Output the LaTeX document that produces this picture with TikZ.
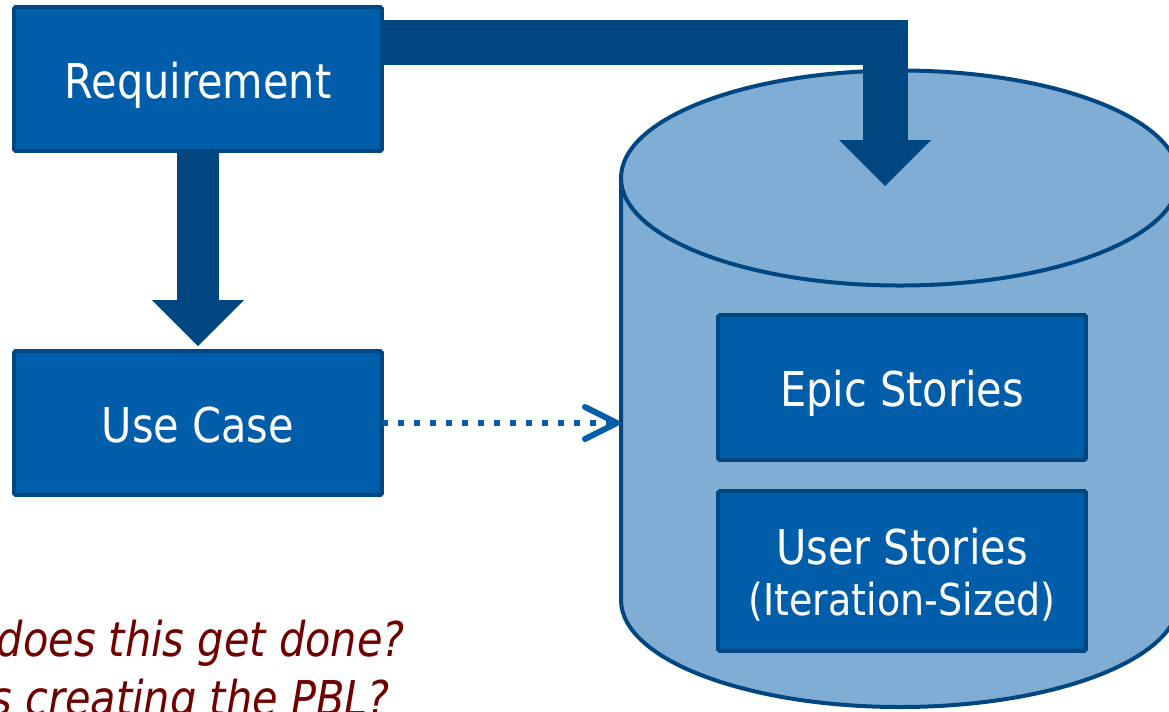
\documentclass[tikz,border=0pt]{standalone}
\usepackage{fontspec}
\setmainfont{DejaVu Sans}[FakeStretch=0.865]
\usetikzlibrary{arrows.meta}
\definecolor{boxblue}{RGB}{0,93,170}
\definecolor{darkblue}{RGB}{0,71,130}
\definecolor{dbblue}{RGB}{127,173,212}
\definecolor{askred}{RGB}{112,0,0}
\tikzset{%
  itembox/.style    = {shape=rectangle, rounded corners=1pt,%
                       draw=darkblue, line width=0.08cm, fill=boxblue,%
                       text=white, align=center, outer sep=0pt,%
                       minimum width=7.36cm, minimum height=2.88cm,%
                       font=\fontsize{27.3}{28.5}\selectfont,%
                       text height=0.76cm, text depth=0pt},%
  blockarrow/.style = {draw=darkblue,%
                       -{Triangle[length=0.92cm, width=1.84cm, line width=0pt]}},%
  dotarrow/.style   = {draw=boxblue, line width=0.12cm,%
                       dash pattern=on 0.12cm off 0.2cm,%
                       -{Straight Barb[length=0.64cm, width=0.64cm, round]}},%
  ask/.style        = {text=askred, inner sep=0pt,%
                       font=\fontsize{27.3}{28.5}\selectfont\itshape},%
  dbline/.style     = {draw=darkblue, line width=0.08cm, fill=dbblue}%
}

\begin{document}
\begin{tikzpicture}[x=0.02cm,y=-0.02cm]
	\clip (0,0) rectangle (1169,711);
	% backlog store
	\draw[dbline] (621,178) -- (621,600)
		arc[start angle=180, end angle=0, x radius=279, y radius=107] -- (1179,178);
	\draw[dbline] (900,178) ellipse[x radius=279, y radius=107.5];
	\coordinate (dbleft) at (620,423);
	\coordinate (bend)   at (885,42.5);
	\coordinate (dbtop)  at (885,186);
	% boxes
	\node[itembox] (req)   at (198,79)    {Requirement};
	\node[itembox] (uc)    at (198,423)   {Use Case};
	\node[itembox, minimum height=2.9cm, text height=0.74cm] (epic) at (902,387.5) {Epic Stories};
	\node[itembox, minimum height=3.2cm, text height=1.76cm] (user) at (902,571)
		{User Stories\\{\fontsize{25}{28.5}\selectfont (Iteration-Sized)}};
	% arrows
	\draw[blockarrow, line width=0.84cm, shorten <=0.04cm, shorten >=0.1cm] (req.south) -- (uc.north);
	\draw[blockarrow, line width=0.9cm] (req.east |- bend) -- (bend) -- (dbtop);
	\draw[dotarrow] (uc.east) -- (dbleft);
	% questions
	\node[ask, anchor=base east] (howdone) at (405,656) {does this get done?};
	\node[ask, anchor=base east] (whopbl)  at (390,715) {is creating the PBL?};
\end{tikzpicture}
\end{document}
